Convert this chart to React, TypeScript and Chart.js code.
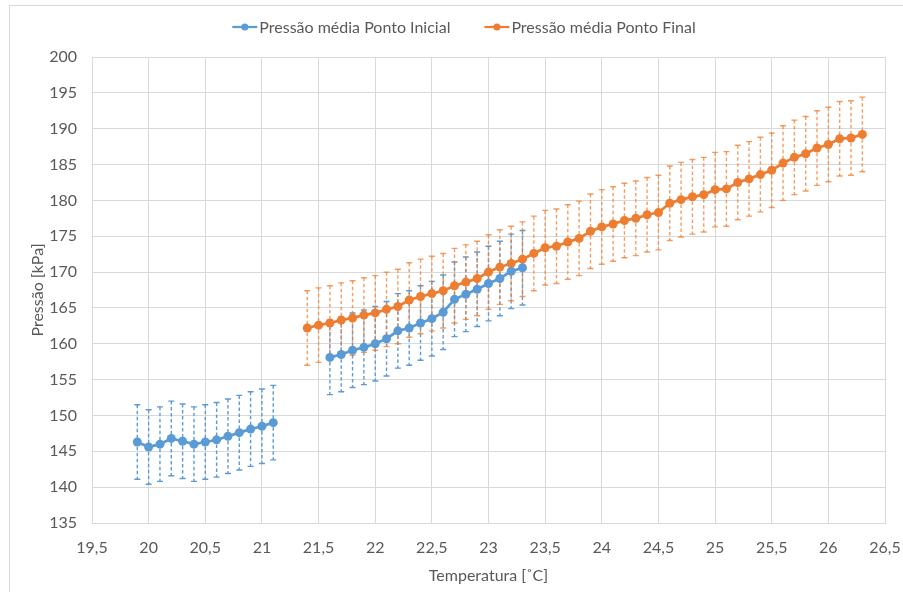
import React, { useEffect, useRef } from "react";
import { Chart, registerables } from "chart.js";

Chart.register(...registerables);

// Temperatures [°C] for the "Ponto Inicial" series (blank cells between 21.1 and 21.6)
const inicialTemps = [
  19.9, 20.0, 20.1, 20.2, 20.3, 20.4, 20.5, 20.6, 20.7, 20.8, 20.9, 21.0, 21.1,
  21.2, 21.3, 21.4, 21.5,
  21.6, 21.7, 21.8, 21.9, 22.0, 22.1, 22.2, 22.3, 22.4, 22.5, 22.6, 22.7, 22.8, 22.9, 23.0, 23.1, 23.2, 23.3,
];
const inicialPress: (number | null)[] = [
  146.3, 145.6, 146.0, 146.8, 146.4, 146.0, 146.3, 146.6, 147.1, 147.6, 148.1, 148.5, 149.0,
  null, null, null, null,
  158.1, 158.5, 159.1, 159.5, 160.0, 160.7, 161.8, 162.2, 162.9, 163.5, 164.4, 166.2, 166.9, 167.6, 168.4, 169.1, 170.1, 170.6,
];

// Temperatures [°C] for the "Ponto Final" series
const finalTemps = [
  21.4, 21.5, 21.6, 21.7, 21.8, 21.9, 22.0, 22.1, 22.2, 22.3, 22.4, 22.5, 22.6, 22.7, 22.8, 22.9, 23.0,
  23.1, 23.2, 23.3,
  23.4, 23.5, 23.6, 23.7, 23.8, 23.9, 24.0, 24.1, 24.2, 24.3, 24.4, 24.5, 24.6, 24.7, 24.8, 24.9,
  25.0, 25.1, 25.2, 25.3, 25.4, 25.5, 25.6, 25.7, 25.8, 25.9, 26.0, 26.1, 26.2, 26.3,
];
const finalPress = [
  162.2, 162.6, 162.9, 163.3, 163.6, 164.0, 164.3, 164.8, 165.2, 166.1, 166.6, 167.0, 167.4, 168.1, 168.6, 169.1, 170.0,
  170.7, 171.2, 171.8,
  172.6, 173.4, 173.6, 174.2, 174.7, 175.7, 176.3, 176.7, 177.2, 177.5, 178.0, 178.3, 179.6, 180.1, 180.5, 180.8,
  181.5, 181.6, 182.5, 183.0, 183.6, 184.2, 185.2, 186.0, 186.5, 187.3, 187.8, 188.6, 188.7, 189.2,
];

// Error bar half-length [kPa] (same for every point)
const inicialErr = 5.2;
const finalErr = 5.2;

const X_MIN = 19.5;
const X_MAX = 26.5;
const X_STEP = 0.5;
const Y_MIN = 135;
const Y_MAX = 200;
const Y_STEP = 5;

const LABEL_INICIAL = "Pressão média Ponto Inicial";
const LABEL_FINAL = "Pressão média Ponto Final";
const X_TITLE = "Temperatura [˚C]";
const Y_TITLE = "Pressão [kPa]";

const BLUE = "#5B9BD5";
const ORANGE = "#ED7D31";
const TEXT = "#595959";
const GRID = "#D9D9D9";
const FONT = "Lato, 'Open Sans', sans-serif";
const FS = 16;

const toPoints = (xs: number[], ys: (number | null)[]) => xs.map((x, i) => ({ x, y: ys[i] }));

const errorBarsPlugin = {
  id: "errorBars",
  beforeDatasetsDraw(chart: any) {
    const ctx = chart.ctx;
    const xs = chart.scales.x;
    const ys = chart.scales.y;
    chart.data.datasets.forEach((ds: any) => {
      const err = ds.errorValue as number;
      if (!err) return;
      ctx.save();
      ctx.strokeStyle = ds.errorColor;
      ctx.globalAlpha = ds.errorAlpha ?? 1;
      ctx.lineWidth = 1.4;
      ds.data.forEach((p: any) => {
        if (p.y === null || p.y === undefined) return;
        const px = xs.getPixelForValue(p.x);
        const top = ys.getPixelForValue(p.y + err);
        const bot = ys.getPixelForValue(p.y - err);
        ctx.setLineDash([3.5, 2.5]);
        ctx.beginPath();
        ctx.moveTo(px, top);
        ctx.lineTo(px, bot);
        ctx.stroke();
        ctx.setLineDash([]);
        ctx.beginPath();
        ctx.moveTo(px - 3, top);
        ctx.lineTo(px + 3, top);
        ctx.moveTo(px - 3, bot);
        ctx.lineTo(px + 3, bot);
        ctx.stroke();
      });
      ctx.restore();
    });
  },
};

const legendPlugin = {
  id: "customLegend",
  afterDraw(chart: any) {
    const ctx = chart.ctx;
    ctx.save();
    ctx.font = `${FS}px ${FONT}`;
    ctx.textBaseline = "middle";
    const sym = 25;
    const gap = 2;
    const spacing = 34;
    const items = chart.data.datasets.map((ds: any) => ({
      label: ds.label,
      color: ds.borderColor,
      w: ctx.measureText(ds.label).width,
    }));
    const total =
      items.reduce((s: number, it: any) => s + sym + gap + it.w, 0) + spacing * (items.length - 1);
    let x = 464 - total / 2;
    const y = 27;
    items.forEach((it: any) => {
      ctx.strokeStyle = it.color;
      ctx.lineWidth = 2.25;
      ctx.beginPath();
      ctx.moveTo(x, y);
      ctx.lineTo(x + sym, y);
      ctx.stroke();
      ctx.fillStyle = it.color;
      ctx.beginPath();
      ctx.arc(x + sym / 2, y, 3.5, 0, Math.PI * 2);
      ctx.fill();
      ctx.fillStyle = TEXT;
      ctx.textAlign = "left";
      ctx.fillText(it.label, x + sym + gap, y + 1);
      x += sym + gap + it.w + spacing;
    });
    ctx.restore();
  },
};

export default function App() {
  const canvasRef = useRef<HTMLCanvasElement | null>(null);

  useEffect(() => {
    if (!canvasRef.current) return;
    const chart = new Chart(canvasRef.current, {
      type: "line",
      data: {
        datasets: [
          {
            label: LABEL_INICIAL,
            data: toPoints(inicialTemps, inicialPress),
            borderColor: BLUE,
            backgroundColor: BLUE,
            borderWidth: 2.75,
            pointRadius: 4.5,
            pointBorderWidth: 0,
            pointBackgroundColor: BLUE,
            spanGaps: false,
            errorValue: inicialErr,
            errorColor: BLUE,
            errorAlpha: 1,
          } as any,
          {
            label: LABEL_FINAL,
            data: toPoints(finalTemps, finalPress),
            borderColor: ORANGE,
            backgroundColor: ORANGE,
            borderWidth: 2.75,
            pointRadius: 4.5,
            pointBorderWidth: 0,
            pointBackgroundColor: ORANGE,
            errorValue: finalErr,
            errorColor: ORANGE,
            errorAlpha: 0.75,
          } as any,
        ],
      },
      options: {
        responsive: false,
        animation: false,
        layout: { padding: { left: 0, right: 18, top: 57, bottom: 0 } },
        plugins: {
          legend: { display: false },
          tooltip: { enabled: false },
        },
        scales: {
          x: {
            type: "linear",
            min: X_MIN,
            max: X_MAX,
            afterBuildTicks: (scale: any) => {
              const ticks = [];
              for (let i = 0; X_MIN + i * X_STEP <= X_MAX + 1e-9; i++) {
                ticks.push({ value: +(X_MIN + i * X_STEP).toFixed(1) });
              }
              scale.ticks = ticks;
            },
            afterFit: (scale: any) => {
              scale.height = 69;
              scale.paddingLeft = 0;
              scale.paddingRight = 0;
            },
            grid: { color: GRID, drawTicks: false, lineWidth: 1 },
            border: { color: GRID },
            ticks: {
              color: TEXT,
              font: { family: FONT, size: FS },
              padding: 15,
              maxRotation: 0,
              autoSkip: false,
              callback: (v: any) => String(+Number(v).toFixed(1)).replace(".", ","),
            },
            title: {
              display: true,
              text: X_TITLE,
              color: TEXT,
              font: { family: FONT, size: FS },
              padding: { top: 0, bottom: 7 },
            },
          },
          y: {
            type: "linear",
            min: Y_MIN,
            max: Y_MAX,
            afterFit: (scale: any) => {
              scale.width = 92;
              scale.paddingTop = 0;
              scale.paddingBottom = 0;
            },
            grid: { color: GRID, drawTicks: false, lineWidth: 1 },
            border: { color: GRID },
            ticks: {
              stepSize: Y_STEP,
              color: TEXT,
              font: { family: FONT, size: FS },
              padding: 15,
            },
            title: {
              display: true,
              text: Y_TITLE,
              color: TEXT,
              font: { family: FONT, size: FS },
              padding: { top: 28, bottom: 0 },
            },
          },
        },
      },
      plugins: [errorBarsPlugin, legendPlugin],
    });
    return () => chart.destroy();
  }, []);

  return (
    <div style={{ position: "absolute", left: 0, top: 0, width: 903, height: 592, background: "#fff", overflow: "hidden" }}>
      <div
        style={{
          position: "absolute",
          left: 9,
          top: 5,
          right: 0,
          bottom: 0,
          borderLeft: `1px solid ${GRID}`,
          borderTop: `1px solid ${GRID}`,
        }}
      />
      <canvas
        ref={canvasRef}
        width={903}
        height={592}
        style={{ position: "absolute", left: 0, top: 0, display: "block" }}
      />
    </div>
  );
}
